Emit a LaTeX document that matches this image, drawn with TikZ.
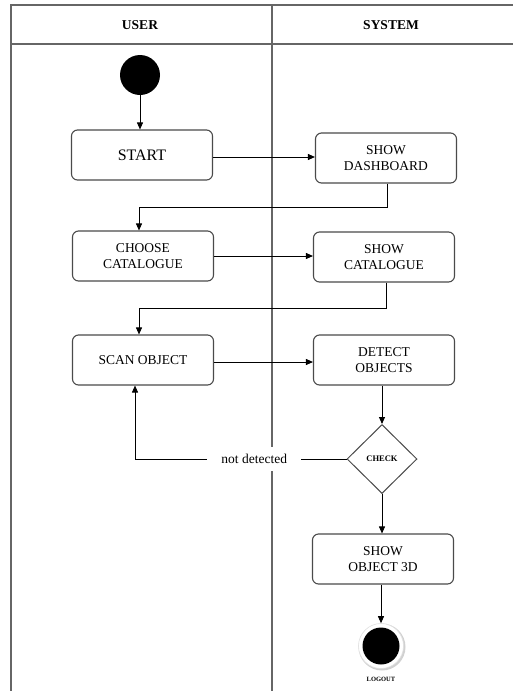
\documentclass[tikz,border=0pt]{standalone}
\usepackage{fontspec}
\setmainfont{Liberation Serif}
\usetikzlibrary{shapes.geometric,arrows.meta,calc}
\definecolor{frameline}{HTML}{666666}
\definecolor{boxline}{HTML}{4A4A4A}
\tikzset{
  lane/.style={draw=frameline, line width=1.6pt},
  act/.style={draw=boxline, line width=1.1pt, rounded corners=6pt, fill=white,
    minimum width=141pt, minimum height=50pt, align=center, inner sep=2pt,
    font=\fontsize{13.5}{16}\selectfont},
  decide/.style={draw=boxline, line width=1pt, diamond, aspect=1, fill=white,
    minimum width=70pt, minimum height=69pt, inner sep=0pt,
    font=\fontsize{8.5}{10}\selectfont\bfseries},
  flow/.style={draw=black, line width=0.9pt, -{Triangle[length=7pt,width=6pt]}},
  head/.style={font=\fontsize{13.5}{16}\selectfont\bfseries}
}
\begin{document}
\begin{tikzpicture}[x=1pt,y=-1pt]
  \useasboundingbox (0,0) rectangle (512,691);
  % swimlane frame
  \draw[lane] (11,691) -- (11,5) -- (520,5);
  \draw[lane] (11,44) -- (520,44);
  \draw[lane] (272,5) -- (272,691);
  \node[head] (huser) at (140,25) {USER};
  \node[head] (hsys) at (391,25) {SYSTEM};

  % initial node
  \node[circle, fill=black, minimum size=40pt, inner sep=0pt] (init) at (140,75) {};

  % activities
  \node[act, font=\fontsize{16}{18}\selectfont] (startb) at (142,155) {START};
  \node[act] (dash) at (386,158) {SHOW\\DASHBOARD};
  \node[act] (choose) at (143,256) {CHOOSE\\CATALOGUE};
  \node[act] (showcat) at (384,257) {SHOW\\CATALOGUE};
  \node[act] (scan) at (143,360) {SCAN OBJECT};
  \node[act] (detect) at (384,360) {DETECT\\OBJECTS};
  \node[decide] (check) at (382,459) {CHECK};
  \node[act] (show3d) at (383,559) {SHOW\\OBJECT 3D};

  % final node
  \fill[black!18] (382,647) circle (23.5pt);
  \node[circle, fill=white, draw=black!12, line width=0.6pt, minimum size=45pt, inner sep=0pt] (finring) at (381,646) {};
  \node[circle, fill=black, minimum size=37pt, inner sep=0pt] (final) at (381,646) {};
  \node[font=\fontsize{6.5}{7}\selectfont\bfseries] (logout) at (381,679) {LOGOUT};

  % control flow
  \draw[flow] (init) -- (init.south |- startb.north);
  \draw[flow] (startb.east |- 0,157) -- (dash.west |- 0,157);
  \draw[flow] (dash.south -| 387,0) -- (387,207) -| (139,0 |- choose.north);
  \draw[flow] (choose.east) -- (showcat.west |- choose.east);
  \draw[flow] (showcat.south -| 386,0) -- (386,308) -| (139,0 |- scan.north);
  \draw[flow] (scan.east |- 0,362) -- (detect.west |- 0,362);
  \draw[flow] (detect.south -| check.north) -- (check.north);
  \draw[flow] (check.west) -| (135,0 |- scan.south)
    node[pos=0.218, fill=white, inner xsep=14pt, inner ysep=7pt,
         font=\fontsize{13.5}{16}\selectfont] (nd) {not detected};
  \draw[flow] (check.south) -- (check.south |- show3d.north);
  \draw[flow] (show3d.south -| final.north) -- (finring.north);
\end{tikzpicture}
\end{document}
